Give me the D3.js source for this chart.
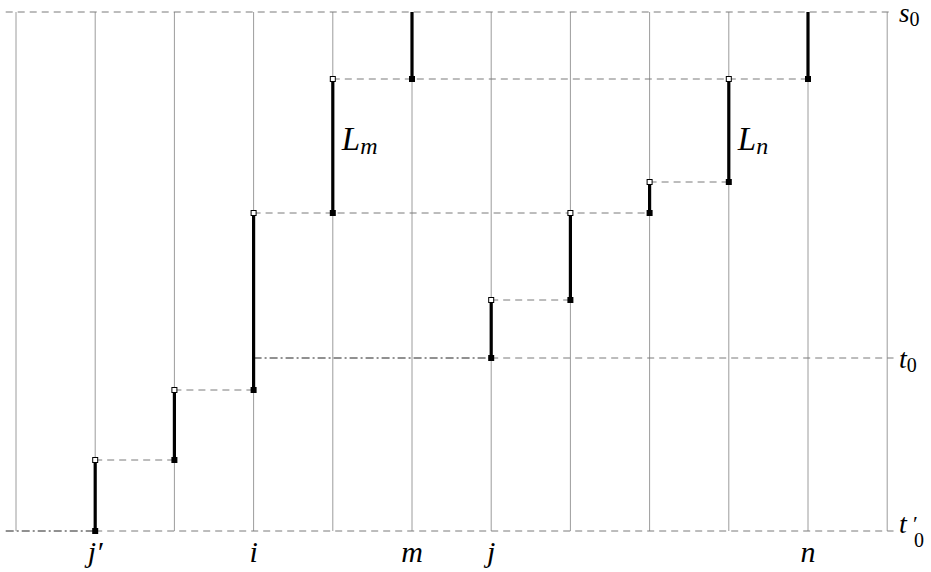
<!DOCTYPE html>
<html>
<head>
<meta charset="utf-8">
<script src="https://cdn.jsdelivr.net/npm/d3@7"></script>
<style>
  body { margin: 0; background: #fff; }
  text { font-family: 'Liberation Serif', 'DejaVu Serif', serif; }
</style>
</head>
<body>
<script>
// columns (vertical grid lines) and their labels
const columns = [0, 1, 2, 3, 4, 5, 6, 7, 8, 9, 10, 11];
const colLabels = ['', 'j′', '', 'i', '', 'm', 'j', '', '', '', 'n', ''];

// levels, measured up from t'0
const levels = {t0p: 0, a: 71, b: 141, t0: 173, c: 231, d: 318, e: 349, f: 452, s0: 519};

// thick segments: [column, bottom level, top level]
const segments = [
  [1, 0, 71], [2, 71, 141], [3, 141, 318], [4, 318, 452], [5, 452, 519],
  [6, 173, 231], [7, 231, 318], [8, 318, 349], [9, 349, 452], [10, 452, 519]
];

// dashed gray links: [level, from column, to column]
const dashed = [
  [519, -0.13, 11.08], [173, 6, 11.08], [0, 1, 11.08],
  [71, 1, 2], [141, 2, 3], [318, 3, 8], [452, 4, 10], [231, 6, 7], [349, 8, 9]
];

// dash-dot links
const dashDot = [[173, 3, 6], [0, -0.13, 1]];

// L labels: [column, level, name, sub]
const segLabels = [[4, 381, 'L', 'm'], [9, 381, 'L', 'n']];

const svg = d3.select('body')
              .append('svg')
              .attr('width', 931)
              .attr('height', 572);

const x = d3.scaleLinear().domain([0, 11]).range([16, 887.2]);
const y = d3.scaleLinear().domain([0, 519]).range([531, 12]);

// gray verticals
svg.selectAll('line.grid')
   .data(columns)
   .enter()
   .append('line')
   .attr('x1', d => x(d)).attr('x2', d => x(d))
   .attr('y1', y(0)).attr('y2', y(519))
   .attr('stroke', '#9c9c9c')
   .attr('stroke-width', 1);

svg.selectAll('line.dash')
   .data(dashed)
   .enter()
   .append('line')
   .attr('x1', d => x(d[1])).attr('x2', d => x(d[2]))
   .attr('y1', d => y(d[0])).attr('y2', d => y(d[0]))
   .attr('stroke', '#7a7a7a')
   .attr('stroke-width', 1)
   .attr('stroke-dasharray', '7,5');

svg.selectAll('line.dashdot')
   .data(dashDot)
   .enter()
   .append('line')
   .attr('x1', d => x(d[1])).attr('x2', d => x(d[2]))
   .attr('y1', d => y(d[0])).attr('y2', d => y(d[0]))
   .attr('stroke', '#222')
   .attr('stroke-width', 1)
   .attr('stroke-dasharray', '8,3,2,3');

// thick segments
svg.selectAll('line.seg')
   .data(segments)
   .enter()
   .append('line')
   .attr('x1', d => x(d[0])).attr('x2', d => x(d[0]))
   .attr('y1', d => y(d[1])).attr('y2', d => y(d[2]))
   .attr('stroke', '#000')
   .attr('stroke-width', 3.2);

// filled markers at bottom
svg.selectAll('rect.bot')
   .data(segments)
   .enter()
   .append('rect')
   .attr('x', d => x(d[0]) - 3).attr('y', d => y(d[1]) - 3)
   .attr('width', 6).attr('height', 6)
   .attr('fill', '#000');

// open markers at top (not at s0)
svg.selectAll('rect.top')
   .data(segments.filter(d => d[2] < levels.s0))
   .enter()
   .append('rect')
   .attr('x', d => x(d[0]) - 2.5).attr('y', d => y(d[2]) - 2.5)
   .attr('width', 5).attr('height', 5)
   .attr('fill', '#fff')
   .attr('stroke', '#000')
   .attr('stroke-width', 1);

// bottom labels
svg.selectAll('text.col')
   .data(columns.filter(d => colLabels[d] !== ''))
   .enter()
   .append('text')
   .attr('x', d => x(d))
   .attr('y', 562)
   .attr('text-anchor', 'middle')
   .style('font-style', 'italic')
   .style('font-size', '30px')
   .text(d => colLabels[d]);

// L labels
const lt = svg.selectAll('text.L')
   .data(segLabels)
   .enter()
   .append('text')
   .attr('x', d => x(d[0]) + 9)
   .attr('y', d => y(d[1]))
   .style('font-style', 'italic')
   .style('font-size', '33px');
lt.append('tspan').text(d => d[2]);
lt.append('tspan').attr('dy', 4).style('font-size', '24px').text(d => d[3]);

// right labels
const rx = 899;
const s0 = svg.append('text').attr('x', rx).attr('y', y(levels.s0) + 10)
              .style('font-size', '27px');
s0.append('tspan').style('font-style', 'italic').text('s');
s0.append('tspan').attr('dy', 4).style('font-size', '20px').text('0');

const t0 = svg.append('text').attr('x', rx).attr('y', y(levels.t0) + 10)
              .style('font-size', '28px');
t0.append('tspan').style('font-style', 'italic').text('t');
t0.append('tspan').attr('dy', 4).style('font-size', '20px').text('0');

const t0p = svg.append('text').attr('x', rx).attr('y', y(levels.t0p) + 2)
               .style('font-size', '28px');
t0p.append('tspan').style('font-style', 'italic').text('t');
t0p.append('tspan').attr('x', rx + 14).attr('dy', -2).style('font-size', '22px').text('′');
t0p.append('tspan').attr('x', rx + 15).attr('dy', 16).style('font-size', '20px').text('0');
</script>
</body>
</html>
